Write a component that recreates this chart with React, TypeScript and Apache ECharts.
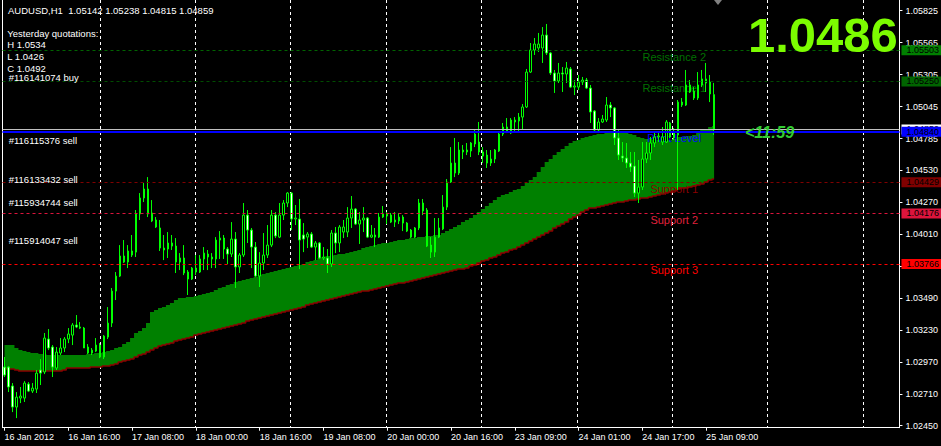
import React, { useEffect, useRef } from 'react';
import * as echarts from 'echarts';

// ---- x axis tick labels (one every 16 hourly bars) ----
const tickLabels = [
  '16 Jan 2012', '16 Jan 16:00', '17 Jan 08:00', '18 Jan 00:00', '18 Jan 16:00', '19 Jan 08:00',
  '20 Jan 00:00', '20 Jan 16:00', '23 Jan 09:00', '24 Jan 01:00', '24 Jan 17:00', '25 Jan 09:00',
];

// ---- right price scale labels ----
const priceTicks = [
  1.0245, 1.0271, 1.0297, 1.0323, 1.0349, 1.0375, 1.0401, 1.0427, 1.0453,
  1.04785, 1.05045, 1.05305, 1.05565, 1.05825,
];

// ---- AUDUSD H1 candles ----
const openP = [
  1.02927, 1.02927, 1.02773, 1.02602, 1.02675, 1.02675, 1.02789, 1.02732, 1.02748, 1.02903,
  1.02887, 1.03155, 1.03090, 1.02919, 1.03041, 1.03082, 1.03155, 1.03187, 1.03269, 1.03253,
  1.03244, 1.03090, 1.03041, 1.03057, 1.03106, 1.03009, 1.03171, 1.03285, 1.03545, 1.03667,
  1.03830, 1.03781, 1.03871, 1.03862, 1.04172, 1.04302, 1.04375, 1.04180, 1.04123, 1.04058,
  1.03895, 1.03887, 1.03936, 1.03911, 1.03814, 1.03814, 1.03700, 1.03643, 1.03732, 1.03700,
  1.03806, 1.03846, 1.03822, 1.03806, 1.03960, 1.03976, 1.03887, 1.03846, 1.03968, 1.03741,
  1.03838, 1.04163, 1.04041, 1.03903, 1.03667, 1.03773, 1.03838, 1.03919, 1.04163, 1.03984,
  1.04163, 1.04261, 1.04342, 1.04131, 1.04131, 1.04001, 1.03984, 1.04009, 1.03903, 1.03936,
  1.03814, 1.03814, 1.03765, 1.04017, 1.03936, 1.04025, 1.04025, 1.04139, 1.04212, 1.04090,
  1.04123, 1.04139, 1.03984, 1.04001, 1.03984, 1.04147, 1.04172, 1.04163, 1.04106, 1.04115,
  1.04147, 1.04098, 1.04041, 1.03984, 1.04058, 1.04261, 1.04204, 1.03919, 1.03862, 1.03984,
  1.04050, 1.04228, 1.04432, 1.04586, 1.04505, 1.04692, 1.04676, 1.04684, 1.04741, 1.04757,
  1.04676, 1.04651, 1.04586, 1.04619, 1.04684, 1.04822, 1.04879, 1.04830, 1.04936, 1.04928,
  1.04960, 1.05042, 1.05326, 1.05505, 1.05522, 1.05522, 1.05627, 1.05481, 1.05318, 1.05253,
  1.05318, 1.05310, 1.05351, 1.05204, 1.05204, 1.05245, 1.05261, 1.05196, 1.05009, 1.04855,
  1.04920, 1.04936, 1.05058, 1.05034, 1.04790, 1.04643, 1.04627, 1.04586, 1.04562, 1.04342,
  1.04391, 1.04619, 1.04668, 1.04749, 1.04798, 1.04757, 1.04757, 1.04912, 1.04838, 1.04814,
  1.05082, 1.05058, 1.05221, 1.05172, 1.05115, 1.05221, 1.05270, 1.05245, 1.05142,
];
const highP = [
  1.03009, 1.02935, 1.02797, 1.02724, 1.02765, 1.02813, 1.02805, 1.02797, 1.02903, 1.02992,
  1.03204, 1.03236, 1.03106, 1.03090, 1.03163, 1.03171, 1.03244, 1.03285, 1.03350, 1.03293,
  1.03253, 1.03114, 1.03082, 1.03163, 1.03122, 1.03187, 1.03415, 1.03570, 1.03700, 1.03919,
  1.03960, 1.03919, 1.04001, 1.04204, 1.04342, 1.04424, 1.04472, 1.04285, 1.04147, 1.04123,
  1.04001, 1.04025, 1.04001, 1.03976, 1.03854, 1.03919, 1.03716, 1.03741, 1.03838, 1.03838,
  1.03903, 1.03879, 1.03854, 1.03984, 1.04033, 1.04001, 1.03903, 1.04106, 1.04025, 1.03854,
  1.04261, 1.04204, 1.04058, 1.03944, 1.03862, 1.04017, 1.04082, 1.04204, 1.04188, 1.04261,
  1.04285, 1.04350, 1.04350, 1.04245, 1.04294, 1.04098, 1.04025, 1.04025, 1.03952, 1.03944,
  1.03903, 1.03887, 1.04041, 1.04066, 1.04082, 1.04123, 1.04228, 1.04318, 1.04220, 1.04188,
  1.04228, 1.04147, 1.04082, 1.04058, 1.04180, 1.04237, 1.04188, 1.04180, 1.04188, 1.04180,
  1.04163, 1.04106, 1.04050, 1.04066, 1.04294, 1.04294, 1.04220, 1.03984, 1.04139, 1.04139,
  1.04326, 1.04456, 1.04716, 1.04790, 1.04757, 1.04733, 1.04749, 1.04757, 1.04863, 1.04920,
  1.04716, 1.04692, 1.04692, 1.04700, 1.04838, 1.04912, 1.04952, 1.04952, 1.04960, 1.04993,
  1.05066, 1.05351, 1.05562, 1.05603, 1.05644, 1.05692, 1.05717, 1.05489, 1.05343, 1.05400,
  1.05367, 1.05408, 1.05367, 1.05261, 1.05302, 1.05286, 1.05278, 1.05221, 1.05017, 1.04952,
  1.04977, 1.05123, 1.05082, 1.05042, 1.04855, 1.04757, 1.04749, 1.04676, 1.04676, 1.04611,
  1.04757, 1.04757, 1.04798, 1.04838, 1.04830, 1.04879, 1.04936, 1.04920, 1.04871, 1.05099,
  1.05115, 1.05343, 1.05261, 1.05204, 1.05326, 1.05343, 1.05400, 1.05302, 1.05238,
];
const lowP = [
  1.02846, 1.02724, 1.02561, 1.02512, 1.02634, 1.02643, 1.02724, 1.02716, 1.02716, 1.02781,
  1.02870, 1.03065, 1.02846, 1.02903, 1.03025, 1.03049, 1.03122, 1.03106, 1.03244, 1.03236,
  1.03082, 1.03033, 1.03025, 1.03049, 1.03000, 1.02992, 1.03155, 1.03253, 1.03472, 1.03659,
  1.03773, 1.03732, 1.03822, 1.03822, 1.04123, 1.04269, 1.04147, 1.04106, 1.04058, 1.03871,
  1.03797, 1.03814, 1.03879, 1.03692, 1.03716, 1.03675, 1.03513, 1.03635, 1.03675, 1.03692,
  1.03716, 1.03716, 1.03732, 1.03732, 1.03806, 1.03806, 1.03765, 1.03822, 1.03570, 1.03692,
  1.03822, 1.03936, 1.03732, 1.03659, 1.03578, 1.03716, 1.03814, 1.03903, 1.03976, 1.03976,
  1.04123, 1.04228, 1.04041, 1.04082, 1.03724, 1.03862, 1.03895, 1.03895, 1.03797, 1.03806,
  1.03797, 1.03692, 1.03741, 1.03854, 1.03862, 1.03976, 1.03984, 1.04058, 1.04082, 1.03928,
  1.04025, 1.03976, 1.03976, 1.03903, 1.03976, 1.04139, 1.04090, 1.04098, 1.04066, 1.04090,
  1.04033, 1.04025, 1.03976, 1.03976, 1.04041, 1.04163, 1.03903, 1.03814, 1.03822, 1.03976,
  1.04041, 1.04204, 1.04424, 1.04472, 1.04489, 1.04619, 1.04651, 1.04635, 1.04716, 1.04651,
  1.04586, 1.04546, 1.04562, 1.04586, 1.04676, 1.04806, 1.04830, 1.04822, 1.04838, 1.04847,
  1.04855, 1.05034, 1.05318, 1.05465, 1.05489, 1.05400, 1.05465, 1.05302, 1.05156, 1.05237,
  1.05164, 1.05237, 1.05196, 1.05139, 1.05180, 1.05221, 1.05188, 1.04912, 1.04838, 1.04830,
  1.04912, 1.04920, 1.04960, 1.04733, 1.04611, 1.04594, 1.04546, 1.04513, 1.04310, 1.04261,
  1.04367, 1.04586, 1.04611, 1.04716, 1.04757, 1.04733, 1.04749, 1.04790, 1.04773, 1.04367,
  1.05042, 1.05050, 1.05156, 1.05099, 1.05099, 1.05204, 1.05164, 1.05082, 1.04815,
];
const closeP = [
  1.02862, 1.02765, 1.02602, 1.02683, 1.02691, 1.02797, 1.02732, 1.02756, 1.02878, 1.02878,
  1.03163, 1.03082, 1.02927, 1.03049, 1.03082, 1.03155, 1.03196, 1.03269, 1.03253, 1.03244,
  1.03082, 1.03041, 1.03065, 1.03106, 1.03009, 1.03179, 1.03285, 1.03545, 1.03667, 1.03830,
  1.03781, 1.03871, 1.03838, 1.04172, 1.04302, 1.04375, 1.04172, 1.04115, 1.04066, 1.03895,
  1.03879, 1.03936, 1.03911, 1.03781, 1.03781, 1.03692, 1.03643, 1.03732, 1.03700, 1.03806,
  1.03854, 1.03822, 1.03806, 1.03960, 1.03976, 1.03887, 1.03846, 1.03968, 1.03741, 1.03838,
  1.04163, 1.04041, 1.03903, 1.03667, 1.03773, 1.03838, 1.03919, 1.04163, 1.03993, 1.04163,
  1.04261, 1.04342, 1.04131, 1.04139, 1.03960, 1.03968, 1.04009, 1.03903, 1.03936, 1.03814,
  1.03822, 1.03765, 1.04017, 1.03936, 1.04066, 1.04066, 1.04139, 1.04212, 1.04090, 1.04123,
  1.04139, 1.03984, 1.04001, 1.03984, 1.04147, 1.04172, 1.04155, 1.04106, 1.04123, 1.04147,
  1.04098, 1.04033, 1.03984, 1.04058, 1.04261, 1.04196, 1.03911, 1.03862, 1.03984, 1.04058,
  1.04228, 1.04432, 1.04586, 1.04505, 1.04692, 1.04676, 1.04692, 1.04749, 1.04822, 1.04676,
  1.04643, 1.04586, 1.04619, 1.04692, 1.04822, 1.04879, 1.04838, 1.04936, 1.04920, 1.04960,
  1.05042, 1.05326, 1.05505, 1.05554, 1.05554, 1.05627, 1.05481, 1.05318, 1.05253, 1.05318,
  1.05310, 1.05359, 1.05204, 1.05213, 1.05245, 1.05261, 1.05196, 1.05001, 1.04855, 1.04920,
  1.04944, 1.05058, 1.05034, 1.04790, 1.04651, 1.04627, 1.04586, 1.04554, 1.04342, 1.04391,
  1.04619, 1.04668, 1.04749, 1.04798, 1.04806, 1.04798, 1.04920, 1.04798, 1.04790, 1.05082,
  1.05058, 1.05221, 1.05164, 1.05115, 1.05221, 1.05270, 1.05237, 1.05148, 1.04859,
];

// ---- green band (upper / lower edge per bar) ----
const cloudUpper = [
  1.03106, 1.03106, 1.03106, 1.03082, 1.03065, 1.03057, 1.03049, 1.03041, 1.03041, 1.03033,
  1.03033, 1.03025, 1.03025, 1.03025, 1.03025, 1.03025, 1.03025, 1.03025, 1.03025, 1.03025,
  1.03025, 1.03033, 1.03033, 1.03041, 1.03041, 1.03049, 1.03057, 1.03065, 1.03082, 1.03090,
  1.03114, 1.03130, 1.03163, 1.03204, 1.03220, 1.03244, 1.03285, 1.03375, 1.03391, 1.03407,
  1.03415, 1.03431, 1.03448, 1.03472, 1.03488, 1.03488, 1.03496, 1.03496, 1.03505, 1.03513,
  1.03521, 1.03529, 1.03537, 1.03553, 1.03570, 1.03578, 1.03594, 1.03602, 1.03619, 1.03627,
  1.03635, 1.03643, 1.03651, 1.03659, 1.03675, 1.03684, 1.03692, 1.03700, 1.03708, 1.03716,
  1.03724, 1.03732, 1.03741, 1.03749, 1.03757, 1.03765, 1.03781, 1.03789, 1.03797, 1.03814,
  1.03822, 1.03830, 1.03830, 1.03838, 1.03846, 1.03846, 1.03854, 1.03862, 1.03871, 1.03879,
  1.03895, 1.03903, 1.03911, 1.03919, 1.03928, 1.03936, 1.03936, 1.03944, 1.03952, 1.03960,
  1.03960, 1.03968, 1.03976, 1.03976, 1.03984, 1.03984, 1.03993, 1.03993, 1.04001, 1.04001,
  1.04017, 1.04033, 1.04050, 1.04066, 1.04082, 1.04106, 1.04123, 1.04139, 1.04163, 1.04188,
  1.04212, 1.04237, 1.04261, 1.04285, 1.04310, 1.04326, 1.04334, 1.04350, 1.04367, 1.04375,
  1.04399, 1.04424, 1.04448, 1.04472, 1.04513, 1.04554, 1.04594, 1.04619, 1.04651, 1.04676,
  1.04700, 1.04725, 1.04749, 1.04765, 1.04773, 1.04790, 1.04798, 1.04806, 1.04814, 1.04822,
  1.04822, 1.04830, 1.04830, 1.04830, 1.04830, 1.04830, 1.04830, 1.04822, 1.04814, 1.04798,
  1.04790, 1.04781, 1.04781, 1.04773, 1.04773, 1.04765, 1.04765, 1.04773, 1.04781, 1.04798,
  1.04798, 1.04806, 1.04806, 1.04814, 1.04830, 1.04855, 1.04863, 1.04879, 1.04887,
];
const cloudLower = [
  1.02911, 1.02911, 1.02911, 1.02903, 1.02895, 1.02895, 1.02895, 1.02895, 1.02895, 1.02895,
  1.02895, 1.02895, 1.02895, 1.02895, 1.02895, 1.02903, 1.02919, 1.02919, 1.02919, 1.02919,
  1.02919, 1.02919, 1.02927, 1.02927, 1.02927, 1.02935, 1.02935, 1.02944, 1.02952, 1.02968,
  1.02976, 1.02984, 1.02992, 1.03009, 1.03025, 1.03033, 1.03049, 1.03065, 1.03082, 1.03098,
  1.03106, 1.03114, 1.03122, 1.03139, 1.03147, 1.03155, 1.03163, 1.03171, 1.03187, 1.03196,
  1.03204, 1.03212, 1.03220, 1.03228, 1.03236, 1.03244, 1.03253, 1.03261, 1.03269, 1.03277,
  1.03285, 1.03301, 1.03309, 1.03318, 1.03326, 1.03334, 1.03342, 1.03350, 1.03358, 1.03366,
  1.03375, 1.03383, 1.03391, 1.03399, 1.03407, 1.03415, 1.03431, 1.03440, 1.03448, 1.03456,
  1.03464, 1.03472, 1.03480, 1.03488, 1.03496, 1.03505, 1.03513, 1.03521, 1.03529, 1.03537,
  1.03545, 1.03545, 1.03553, 1.03562, 1.03570, 1.03578, 1.03586, 1.03594, 1.03602, 1.03610,
  1.03610, 1.03619, 1.03627, 1.03635, 1.03643, 1.03651, 1.03659, 1.03667, 1.03675, 1.03684,
  1.03692, 1.03700, 1.03708, 1.03716, 1.03724, 1.03724, 1.03732, 1.03749, 1.03757, 1.03773,
  1.03789, 1.03797, 1.03814, 1.03822, 1.03838, 1.03854, 1.03862, 1.03879, 1.03887, 1.03903,
  1.03919, 1.03936, 1.03952, 1.03968, 1.03984, 1.04001, 1.04017, 1.04033, 1.04058, 1.04074,
  1.04090, 1.04106, 1.04131, 1.04147, 1.04163, 1.04188, 1.04204, 1.04220, 1.04220, 1.04228,
  1.04237, 1.04245, 1.04253, 1.04261, 1.04269, 1.04269, 1.04277, 1.04285, 1.04285, 1.04294,
  1.04302, 1.04302, 1.04310, 1.04318, 1.04326, 1.04334, 1.04342, 1.04350, 1.04359, 1.04375,
  1.04383, 1.04383, 1.04391, 1.04399, 1.04407, 1.04415, 1.04432, 1.04448, 1.04456,
];

// ---- pivot levels ----
const levelNames = ['Resistance 2', 'Resistance 1', 'Pivot Level', 'Support 1', 'Support 2', 'Support 3'];
const levelValues = [1.05503, 1.0525, 1.0484, 1.04429, 1.04176, 1.03766];
const levelLineColors = ['#006400', '#004d00', '#0000FF', '#800000', '#DC143C', '#FF0000'];
const levelBoxColors = ['#008000', '#006400', '#0000FF', '#800000', '#DC143C', '#FF0000'];
const levelTextColors = ['#007000', '#007000', '#0000FF', '#8B0000', '#E0203C', '#FF0000'];
const levelLabelBar = 168;

// ---- chart annotations ----
const headerText = 'AUDUSD,H1  1.05142 1.05238 1.04815 1.04859';
const yesterdayLines = ['Yesterday quotations:', 'H 1.0534', 'L 1.0426', 'C 1.0492'];
const orderLabels = ['#116141074 buy', '#116115376 sell', '#116133432 sell', '#115934744 sell', '#115914047 sell'];
const timerText = '<11:59';

const CATEGORY_COUNT = 225;
const FONT = '"Liberation Sans", Arial, sans-serif';

export default function App() {
  const ref = useRef<HTMLDivElement>(null);

  useEffect(() => {
    if (!ref.current) return;
    const chart = echarts.init(ref.current, undefined, { renderer: 'svg' });
    const categories = Array.from({ length: CATEGORY_COUNT }, (_, i) => 'bar' + i);
    const lastClose = closeP[closeP.length - 1];
    const showTick = (idx: number) => idx % 16 === 0 && idx / 16 < tickLabels.length;

    const boxLabel = (text: string, bg: string) => ({
      show: true, position: 'end', distance: 2, formatter: text,
      backgroundColor: bg, color: '#000', fontSize: 9, fontFamily: FONT,
      padding: [1, 6, 0, 5], lineHeight: 9,
    });

    const levelMarkLines: any[] = [
      {
        yAxis: lastClose,
        lineStyle: { color: '#C0C0C0', type: 'solid', width: 1 },
        label: boxLabel(lastClose.toFixed(5), '#FFFFFF'),
      },
      ...levelValues.map((v, i) => ({
        yAxis: v,
        lineStyle: {
          color: levelLineColors[i],
          type: i === 2 ? 'solid' : [3, 3],
          width: i === 2 ? 2 : 1,
        },
        label: boxLabel(v.toFixed(5), levelBoxColors[i]),
      })),
    ];

    const option: any = {
      animation: false,
      backgroundColor: '#000',
      grid: [
        { left: 2.5, right: 40, top: 0, bottom: 18.3 },
        { left: 4.67, right: 40, top: 0, bottom: 18.3 },
      ],
      xAxis: [
        {
          type: 'category', data: categories, boundaryGap: true, gridIndex: 0,
          axisLine: { show: true, lineStyle: { color: '#FFFFFF', width: 1 } },
          axisTick: { show: true, alignWithLabel: true, length: 3, interval: (idx: number) => showTick(idx), lineStyle: { color: '#FFFFFF' } },
          axisLabel: {
            show: true, interval: (idx: number) => showTick(idx),
            formatter: (_v: string, idx: number) => tickLabels[idx / 16] ?? '',
            align: 'left', color: '#FFFFFF', fontSize: 9, fontFamily: FONT, margin: 5,
          },
          splitLine: { show: false },
        },
        {
          type: 'value', gridIndex: 1, min: 0, max: 9.4, interval: 1,
          axisLine: { show: false }, axisTick: { show: false }, axisLabel: { show: false },
          splitLine: { show: true, showMinLine: false, showMaxLine: false, lineStyle: { color: '#FFFFFF', type: [3, 3], width: 1 } },
        },
      ],
      yAxis: [
        {
          type: 'value', position: 'right', gridIndex: 0, min: 1.02434, max: 1.05912,
          axisLine: { show: true, lineStyle: { color: '#FFFFFF', width: 1 } },
          axisTick: { show: true, length: 3, customValues: priceTicks, lineStyle: { color: '#FFFFFF' } },
          axisLabel: {
            show: true, customValues: priceTicks, formatter: (v: number) => v.toFixed(5),
            color: '#FFFFFF', fontSize: 9, fontFamily: FONT, margin: 6,
          },
          splitLine: { show: false },
        },
        { type: 'value', gridIndex: 1, show: false, min: 0, max: 1 },
        {
          type: 'value', position: 'left', gridIndex: 0, min: 1.02434, max: 1.05912,
          axisLine: { show: true, lineStyle: { color: '#FFFFFF', width: 1 } },
          axisTick: { show: false }, axisLabel: { show: false }, splitLine: { show: false },
        },
      ],
      series: [
        {
          name: 'band-base', type: 'line', data: cloudLower, stack: 'cloud', step: 'middle',
          symbol: 'none', silent: true, z: 2,
          lineStyle: { color: '#8B0000', width: 1.5 },
        },
        {
          name: 'band', type: 'line', data: cloudUpper.map((u, i) => u - cloudLower[i]), stack: 'cloud',
          step: 'middle', symbol: 'none', silent: true, z: 1,
          lineStyle: { width: 0, opacity: 0 },
          areaStyle: { color: '#008000', opacity: 1 },
        },
        {
          name: 'levels', type: 'line', data: [], z: 3, silent: true,
          markLine: { silent: true, symbol: ['none', 'none'], precision: 5, animation: false, data: levelMarkLines },
        },
        {
          name: 'level-names', type: 'scatter', z: 3, silent: true, clip: false,
          data: levelValues.map((v, i) => ({
            value: [levelLabelBar, v],
            label: { color: levelTextColors[i] },
          })),
          symbol: 'circle', symbolSize: 1,
          itemStyle: { color: 'rgba(0,0,0,0)', opacity: 1 },
          labelLayout: { hideOverlap: false },
          label: {
            show: true, position: ['50%', 7], align: 'center', verticalAlign: 'middle',
            overflow: 'none', width: 120, textBorderWidth: 0, textBorderColor: 'transparent',
            formatter: (p: any) => levelNames[p.dataIndex],
            fontSize: 11, fontFamily: FONT, opacity: 1,
          },
        },
        {
          name: 'AUDUSD', type: 'candlestick', z: 4, barWidth: 2,
          data: openP.map((o, i) => [o, closeP[i], lowP[i], highP[i]]),
          itemStyle: {
            color: '#000000', color0: '#FFFFFF',
            borderColor: '#00FF00', borderColor0: '#00FF00', borderWidth: 1,
          },
        },
      ],
      graphic: [
        { type: 'text', x: 8, y: 10.7, z: 10, style: { text: headerText, fill: '#FFFFFF', font: `9.5px ${FONT}`, verticalAlign: 'middle' } },
        ...yesterdayLines.map((t, i) => ({
          type: 'text', x: 7.3, y: [33, 44.5, 56.3, 68.7][i], z: 10,
          style: { text: t, fill: '#FFFFFF', font: `9.5px ${FONT}`, verticalAlign: 'middle' },
        })),
        ...orderLabels.map((t, i) => ({
          type: 'text', x: 8.7, y: [77.8, 140.7, 179.3, 202.7, 240.7][i], z: 10,
          style: { text: t, fill: '#FFFFFF', font: `9.5px ${FONT}`, verticalAlign: 'middle' },
        })),
        {
          type: 'text', x: 748, y: 34.5, z: 10,
          style: { text: lastClose.toFixed(4), fill: '#7CFC00', font: `bold 49px ${FONT}`, verticalAlign: 'middle' },
        },
        {
          type: 'text', x: 745, y: 132, z: 10,
          style: { text: timerText, fill: '#32CD32', font: `italic bold 16px ${FONT}`, verticalAlign: 'middle' },
        },
        { type: 'polygon', z: 10, shape: { points: [[714, 0], [722, 0], [718, 5]] }, style: { fill: '#808080' } },
      ],
    };

    chart.setOption(option);
    return () => chart.dispose();
  }, []);

  return (
    <div
      ref={ref}
      style={{ position: 'fixed', left: 0, top: 0, width: 941, height: 446, background: '#000' }}
    />
  );
}
